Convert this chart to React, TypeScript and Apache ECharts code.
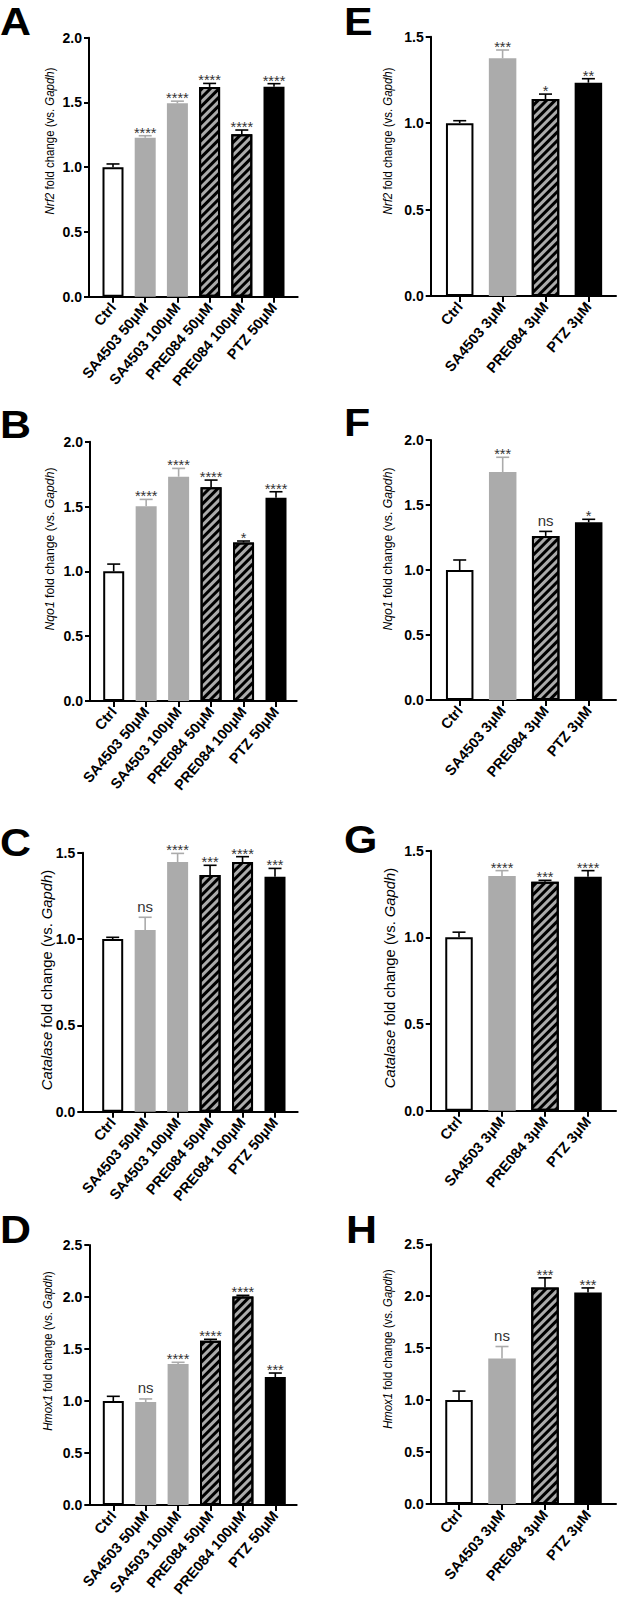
import React, { useEffect, useRef } from 'react';
import * as echarts from 'echarts';

const FONT = "'Liberation Sans', Arial, Helvetica, sans-serif";

// Categories
const CATS_50 = ['Ctrl', 'SA4503 50μM', 'SA4503 100μM', 'PRE084 50μM', 'PRE084 100μM', 'PTZ 50μM'];
const CATS_3 = ['Ctrl', 'SA4503 3μM', 'PRE084 3μM', 'PTZ 3μM'];
const KIND_50 = ['open', 'gray', 'gray', 'hatch', 'hatch', 'black'];
const KIND_3 = ['open', 'gray', 'hatch', 'black'];

// A: Nrf2 (50/100 µM)
const A_MEAN = [1.0, 1.228, 1.493, 1.62, 1.254, 1.622];
const A_SEM = [0.025, 0.015, 0.017, 0.027, 0.033, 0.023];
const A_SIG = ['', '****', '****', '****', '****', '****'];
// B: Nqo1
const B_MEAN = [1.0, 1.503, 1.73, 1.648, 1.223, 1.568];
const B_SEM = [0.056, 0.052, 0.064, 0.056, 0.011, 0.046];
const B_SIG = ['', '****', '****', '****', '*', '****'];
// C: Catalase
const C_MEAN = [1.0, 1.052, 1.446, 1.371, 1.446, 1.361];
const C_SEM = [0.01, 0.074, 0.05, 0.056, 0.031, 0.048];
const C_SIG = ['', 'ns', '****', '***', '****', '***'];
// D: Hmox1
const D_MEAN = [1.0, 0.99, 1.356, 1.58, 2.006, 1.231];
const D_SEM = [0.045, 0.03, 0.016, 0.013, 0.01, 0.038];
const D_SIG = ['', 'ns', '****', '****', '****', '***'];
// E: Nrf2 (3 µM)
const E_MEAN = [1.0, 1.375, 1.139, 1.234];
const E_SEM = [0.014, 0.048, 0.029, 0.023];
const E_SIG = ['', '***', '*', '**'];
// F: Nqo1
const F_MEAN = [1.0, 1.754, 1.262, 1.367];
const F_SEM = [0.077, 0.113, 0.035, 0.023];
const F_SIG = ['', '***', 'ns', '*'];
// G: Catalase
const G_MEAN = [1.0, 1.354, 1.321, 1.35];
const G_SEM = [0.03, 0.031, 0.008, 0.035];
const G_SIG = ['', '****', '***', '****'];
// H: Hmox1
const H_MEAN = [1.0, 1.40, 2.084, 2.035];
const H_SEM = [0.087, 0.116, 0.093, 0.045];
const H_SIG = ['', 'ns', '***', '***'];

const Y_INTERVAL = 0.5;

const PANELS = [
  { letter: 'A', gene: 'Nrf2', cats: CATS_50, kinds: KIND_50, mean: A_MEAN, sem: A_SEM, sig: A_SIG, max: 2.0,
    L: { axisX: 89, top: 37.7, bottom: 296.7, right: 297.7, c0: 113, step: 32.2, barW: 21, lx: 0, ly: 2, tx: 50, ty: 141, tfs: 13, tsx: 0.88 } },
  { letter: 'E', gene: 'Nrf2', cats: CATS_3, kinds: KIND_3, mean: E_MEAN, sem: E_SEM, sig: E_SIG, max: 1.5,
    L: { axisX: 430.7, top: 36.7, bottom: 296, right: 616, c0: 459.7, step: 42.9, barW: 27.5, lx: 344, ly: 2, tx: 388, ty: 141, tfs: 13, tsx: 0.88 } },
  { letter: 'B', gene: 'Nqo1', cats: CATS_50, kinds: KIND_50, mean: B_MEAN, sem: B_SEM, sig: B_SIG, max: 2.0,
    L: { axisX: 90, top: 441.7, bottom: 701, right: 296.7, c0: 113.7, step: 32.46, barW: 21, lx: 0, ly: 405, tx: 50, ty: 549, tfs: 13, tsx: 0.94 } },
  { letter: 'F', gene: 'Nqo1', cats: CATS_3, kinds: KIND_3, mean: F_MEAN, sem: F_SEM, sig: F_SIG, max: 2.0,
    L: { axisX: 430.7, top: 440, bottom: 700, right: 616, c0: 459.7, step: 43, barW: 27.5, lx: 344, ly: 403, tx: 388, ty: 549, tfs: 13, tsx: 0.94 } },
  { letter: 'C', gene: 'Catalase', cats: CATS_50, kinds: KIND_50, mean: C_MEAN, sem: C_SEM, sig: C_SIG, max: 1.5,
    L: { axisX: 82.3, top: 852.7, bottom: 1111.7, right: 297.7, c0: 112.7, step: 32.46, barW: 21, lx: 0, ly: 823, tx: 46.7, ty: 980, tfs: 14.8, tsx: 1 } },
  { letter: 'G', gene: 'Catalase', cats: CATS_3, kinds: KIND_3, mean: G_MEAN, sem: G_SEM, sig: G_SIG, max: 1.5,
    L: { axisX: 430.7, top: 850.7, bottom: 1110.7, right: 616, c0: 459, step: 43, barW: 27.5, lx: 344, ly: 820, tx: 390, ty: 978, tfs: 14.8, tsx: 1 } },
  { letter: 'D', gene: 'Hmox1', cats: CATS_50, kinds: KIND_50, mean: D_MEAN, sem: D_SEM, sig: D_SIG, max: 2.5,
    L: { axisX: 89.3, top: 1245, bottom: 1505, right: 296.7, c0: 113.3, step: 32.4, barW: 21, lx: 0, ly: 1210, tx: 48, ty: 1351, tfs: 13, tsx: 0.87 } },
  { letter: 'H', gene: 'Hmox1', cats: CATS_3, kinds: KIND_3, mean: H_MEAN, sem: H_SEM, sig: H_SIG, max: 2.5,
    L: { axisX: 430.7, top: 1244.3, bottom: 1504, right: 616, c0: 459, step: 43, barW: 27.5, lx: 346, ly: 1210.5, tx: 388, ty: 1349, tfs: 13, tsx: 0.87 } },
];

const GRAY = '#ababab';

function barStyle(kind: string) {
  if (kind === 'open') return { color: '#ffffff', borderColor: '#000', borderWidth: 2 };
  if (kind === 'gray') return { color: GRAY, borderWidth: 0 };
  if (kind === 'hatch')
    return {
      color: GRAY,
      borderColor: '#000',
      borderWidth: 2,
      decal: {
        symbol: 'rect',
        symbolSize: 1,
        dashArrayX: [1, 0],
        dashArrayY: [3, 3],
        rotation: -Math.PI / 4,
        color: '#000',
      },
    };
  return { color: '#000', borderColor: '#000', borderWidth: 2 };
}

function buildOption() {
  const grid: any[] = [];
  const xAxis: any[] = [];
  const yAxis: any[] = [];
  const series: any[] = [];
  const graphic: any[] = [];

  PANELS.forEach((p, pi) => {
    const L = p.L;
    const h = L.bottom - L.top;
    const n = p.cats.length;
    const outer = pi * 2;
    const inner = pi * 2 + 1;
    grid.push({ left: L.axisX, top: L.top, width: L.right - L.axisX, height: h, containLabel: false, outerBoundsMode: 'none' });
    const innerLeft = L.c0 - L.step / 2;
    grid.push({ left: innerLeft, top: L.top, width: L.step * n, height: h, containLabel: false, outerBoundsMode: 'none' });

    xAxis.push({
      type: 'value', gridIndex: outer, min: 0, max: 1,
      axisLine: { show: true, lineStyle: { color: '#000', width: 2 } },
      axisTick: { show: false }, axisLabel: { show: false }, splitLine: { show: false },
    });
    yAxis.push({
      type: 'value', gridIndex: outer, min: 0, max: p.max, interval: Y_INTERVAL,
      axisLine: { show: true, lineStyle: { color: '#000', width: 2 } },
      axisTick: { show: true, length: 5, lineStyle: { color: '#000', width: 2 } },
      axisLabel: {
        show: true, margin: 7, color: '#000', fontFamily: FONT, fontWeight: 'bold', fontSize: 14,
        formatter: (v: number) => v.toFixed(1),
      },
      splitLine: { show: false },
    });
    xAxis.push({
      type: 'category', gridIndex: inner, data: p.cats,
      axisLine: { show: false },
      axisTick: { show: true, alignWithLabel: true, length: 6, lineStyle: { color: '#000', width: 2 } },
      axisLabel: {
        show: true, rotate: 50, margin: 8, interval: 0, color: '#000',
        fontFamily: FONT, fontWeight: 'bold', fontSize: 14.5,
      },
      splitLine: { show: false },
    });
    yAxis.push({ type: 'value', gridIndex: inner, min: 0, max: p.max, show: false });

    series.push({
      type: 'bar', xAxisIndex: inner, yAxisIndex: inner, barWidth: L.barW, silent: true,
      data: p.mean.map((m, i) => ({ value: m, itemStyle: barStyle(p.kinds[i]) })),
    });

    const kinds = p.kinds;
    const sigs = p.sig;
    series.push({
      type: 'custom', xAxisIndex: inner, yAxisIndex: inner, silent: true, z: 5,
      data: p.mean.map((m, i) => [i, m, p.sem[i]]),
      renderItem: (params: any, api: any) => {
        const i = params.dataIndex;
        const mean = api.value(1);
        const sem = api.value(2);
        const base = api.coord([i, mean]);
        const top = api.coord([i, mean + sem]);
        const col = kinds[i] === 'gray' ? GRAY : '#000';
        const cap = 13;
        const sig = sigs[i];
        const children: any[] = [
          { type: 'line', shape: { x1: base[0], y1: base[1], x2: top[0], y2: top[1] }, style: { stroke: col, lineWidth: 1.6 } },
          { type: 'line', shape: { x1: top[0] - cap / 2, y1: top[1], x2: top[0] + cap / 2, y2: top[1] }, style: { stroke: col, lineWidth: 1.6 } },
        ];
        if (sig) {
          const isNs = sig === 'ns';
          children.push({
            type: 'text', x: top[0], y: isNs ? top[1] - 11 : top[1] - 3,
            style: {
              text: sig, fill: '#333', fontFamily: FONT, fontSize: isNs ? 15 : 14.5,
              align: 'center', verticalAlign: 'middle',
            },
          });
        }
        return { type: 'group', children };
      },
    });

    graphic.push({
      type: 'text', x: L.lx, y: L.ly, scaleX: 1.1,
      style: { text: p.letter, fill: '#000', fontFamily: FONT, fontWeight: 'bold', fontSize: 39, align: 'left', verticalAlign: 'top' },
    });
    const fs = L.tfs;
    graphic.push({
      type: 'text', x: L.tx, y: L.ty, rotation: Math.PI / 2, scaleX: L.tsx,
      style: {
        text: `{i|${p.gene}}{n| fold change (vs. }{i|Gapdh}{n|)}`,
        fill: '#000', fontFamily: FONT, fontSize: fs, align: 'center', verticalAlign: 'middle',
        rich: {
          i: { fontStyle: 'italic', fontFamily: FONT, fontSize: fs, fill: '#000' },
          n: { fontFamily: FONT, fontSize: fs, fill: '#000' },
        },
      },
    });
  });

  return { animation: false, backgroundColor: '#fff', grid, xAxis, yAxis, series, graphic };
}

export default function App() {
  const ref = useRef<HTMLDivElement>(null);
  useEffect(() => {
    if (!ref.current) return;
    const chart = echarts.init(ref.current, undefined, { renderer: 'svg' });
    chart.setOption(buildOption() as any);
    return () => chart.dispose();
  }, []);
  return (
    <div
      ref={ref}
      style={{ position: 'absolute', left: 0, top: 0, width: 619, height: 1599, background: '#fff' }}
    />
  );
}
